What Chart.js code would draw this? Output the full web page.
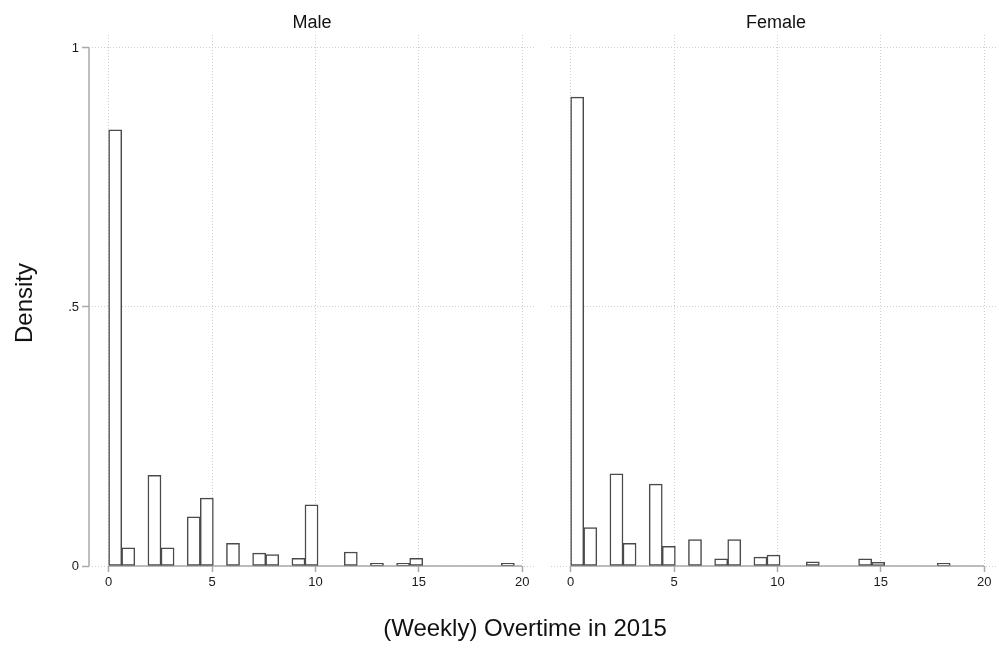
<!DOCTYPE html>
<html>
<head>
    <meta charset="utf-8" />
    <title>(Weekly) Overtime in 2015</title>
    <script src="https://cdn.jsdelivr.net/npm/chart.js"></script>
    <style>
        body { margin: 0; background: #fff; font-family: "Liberation Sans", Arial, sans-serif; }
        #wrap { position: relative; width: 999px; height: 648px; }
        canvas { position: absolute; top: 0; }
        .lbl { position: absolute; color: #111; white-space: nowrap; line-height: 1; transform: translate(-50%, -50%); }
    </style>
</head>
<body>
<div id="wrap">
    <canvas id="maleChart" width="545" height="648" style="left:0"></canvas>
    <canvas id="femaleChart" width="454" height="648" style="left:545px"></canvas>
    <div class="lbl" style="left:312px; top:22px; font-size:18px;">Male</div>
    <div class="lbl" style="left:776px; top:22px; font-size:18px;">Female</div>
    <div class="lbl" style="left:24px; top:303px; font-size:24px; transform: translate(-50%, -50%) rotate(-90deg);">Density</div>
    <div class="lbl" style="left:525px; top:628px; font-size:24px;">(Weekly) Overtime in 2015</div>
</div>

<script>
    // histogram bins (bin centres, width about 0.633 hours)
    const binCenters = [
        0.317, 0.950, 1.583, 2.216, 2.849, 3.482, 4.115, 4.748, 5.381, 6.014,
        6.647, 7.280, 7.913, 8.546, 9.179, 9.812, 10.445, 11.078, 11.711, 12.344,
        12.977, 13.610, 14.243, 14.876, 15.509, 16.142, 16.775, 17.408, 18.041, 18.674,
        19.307
    ];

    const maleDensity = [
        0.842, 0.035, null, 0.175, 0.035, null, 0.095, 0.131, null, 0.044,
        null, 0.025, 0.022, null, 0.015, 0.118, null, null, 0.027, null,
        0.005, null, 0.005, 0.015, null, null, null, null, null, null,
        0.005
    ];

    const femaleDensity = [
        0.905, 0.074, null, 0.178, 0.044, null, 0.158, 0.038, null, 0.051,
        null, 0.014, 0.051, null, 0.017, 0.021, null, null, 0.008, null,
        null, null, 0.014, 0.007, null, null, null, null, 0.005, null,
        null
    ];

    const xTicks = [0, 5, 10, 15, 20];
    const yTicks = [0, 0.5, 1];
    const yTickLabels = ['0', '.5', '1'];

    Chart.defaults.font.family = '"Liberation Sans", Arial, sans-serif';
    Chart.defaults.color = '#222';

    // axis lines only over the labelled range, like Stata draws them
    const axisLines = {
        id: 'axisLines',
        beforeDatasetsDraw(chart, args, opts) {
            const ctx = chart.ctx;
            const x = chart.scales.x, y = chart.scales.y;
            ctx.save();
            ctx.strokeStyle = '#a9a9a9';
            ctx.lineWidth = 1.5;
            ctx.beginPath();
            ctx.moveTo(x.getPixelForValue(xTicks[0]), y.getPixelForValue(0));
            ctx.lineTo(x.getPixelForValue(xTicks[xTicks.length - 1]), y.getPixelForValue(0));
            if (opts.yLine) {
                ctx.moveTo(chart.chartArea.left, y.getPixelForValue(1));
                ctx.lineTo(chart.chartArea.left, y.getPixelForValue(0));
            }
            ctx.stroke();
            ctx.restore();
        }
    };

    function makePanel(canvasId, values, showY) {
        const ctx = document.getElementById(canvasId).getContext('2d');
        return new Chart(ctx, {
            type: 'bar',
            data: {
                datasets: [{
                    data: binCenters.map((c, i) => ({ x: c, y: values[i] })),
                    backgroundColor: '#ffffff',
                    borderColor: '#4a4a4a',
                    borderWidth: 1.5,
                    borderSkipped: false,
                    barPercentage: 1,
                    categoryPercentage: 1
                }]
            },
            options: {
                responsive: false,
                animation: false,
                layout: {
                    padding: showY ? { left: 0, right: 10, top: 35, bottom: 52 }
                                   : { left: 0, right: 2, top: 35, bottom: 52 }
                },
                plugins: {
                    legend: { display: false },
                    tooltip: { enabled: false },
                    axisLines: { yLine: showY }
                },
                scales: {
                    x: {
                        type: 'linear',
                        min: -0.95,
                        max: 20.62,
                        offset: false,
                        afterBuildTicks: s => { s.ticks = xTicks.map(v => ({ value: v })); },
                        afterFit: s => { s.height = 30; },
                        grid: {
                            offset: false,
                            color: '#cfcfcf',
                            lineWidth: 1,
                            tickColor: '#a9a9a9',
                            tickLength: 6,
                            tickWidth: 1.5,
                            tickBorderDash: []
                        },
                        border: { display: false, dash: [1, 2] },
                        ticks: {
                            font: { size: 13 },
                            color: '#1a1a1a',
                            padding: 3,
                            maxRotation: 0,
                            callback: v => String(v)
                        }
                    },
                    y: {
                        min: 0,
                        max: 1.025,
                        afterBuildTicks: s => { s.ticks = yTicks.map(v => ({ value: v })); },
                        afterFit: s => { s.width = showY ? 89 : 6; },
                        grid: {
                            color: '#cfcfcf',
                            lineWidth: 1,
                            drawTicks: showY,
                            tickColor: '#a9a9a9',
                            tickLength: 7,
                            tickWidth: 1.5,
                            tickBorderDash: []
                        },
                        border: { display: false, dash: [1, 2] },
                        ticks: {
                            display: showY,
                            font: { size: 13 },
                            color: '#1a1a1a',
                            padding: 3,
                            callback: v => yTickLabels[yTicks.indexOf(v)]
                        }
                    }
                }
            },
            plugins: [axisLines]
        });
    }

    makePanel('maleChart', maleDensity, true);
    makePanel('femaleChart', femaleDensity, false);
</script>
</body>
</html>
